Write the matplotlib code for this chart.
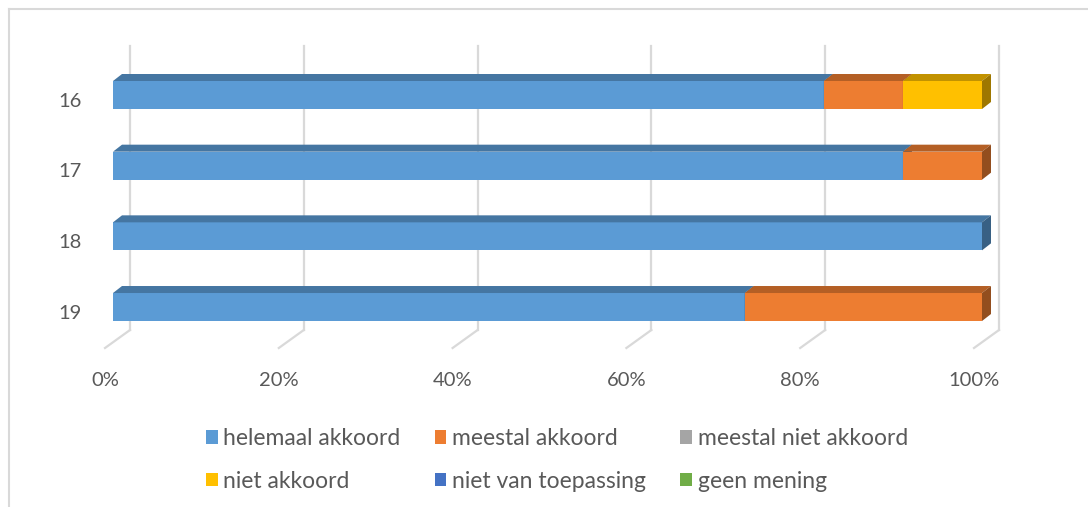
import matplotlib.pyplot as plt
from matplotlib.patches import Polygon, Patch
from matplotlib.lines import Line2D
from matplotlib.colors import to_rgb

categories = ["16", "17", "18", "19"]
series_names = ["helemaal akkoord", "meestal akkoord", "meestal niet akkoord",
                "niet akkoord", "niet van toepassing", "geen mening"]
helemaal_akkoord = [81.8, 90.9, 100.0, 72.7]
meestal_akkoord = [9.1, 9.1, 0.0, 27.3]
meestal_niet_akkoord = [0.0, 0.0, 0.0, 0.0]
niet_akkoord = [9.1, 0.0, 0.0, 0.0]
niet_van_toepassing = [0.0, 0.0, 0.0, 0.0]
geen_mening = [0.0, 0.0, 0.0, 0.0]
x_ticks = [0, 20, 40, 60, 80, 100]
x_tick_labels = ["0%", "20%", "40%", "60%", "80%", "100%"]

colors = ["#5B9BD5", "#ED7D31", "#A5A5A5", "#FFC000", "#4472C4", "#70AD47"]
text_color = "#595959"
grid_color = "#D9D9D9"

plt.rcParams["font.family"] = ["Lato", "DejaVu Sans"]

W, H = 1088, 507
fig = plt.figure(figsize=(W / 100, H / 100), dpi=100)
ax = fig.add_axes([0, 0, 1, 1])

# pixel layout helpers: x value 0..100 -> front face 113..982 px
px_per_unit = 869 / 100
row_px = 70.67
ax.set_xlim(-113 / px_per_unit, (W - 113) / px_per_unit)
ax.set_ylim((H - 95) / row_px, -95 / row_px)
ax.axis("off")

bar_h = 28 / row_px
dx, dy = 9 / px_per_unit, -7 / row_px
wall_dx = 17 / px_per_unit
wall_top, wall_bot = (46 - 95) / row_px, (330 - 95) / row_px
floor_dx, floor_bot = -25 / px_per_unit, (348 - 95) / row_px


def shade(c, f):
    r, g, b = to_rgb(c)
    return (r * f, g * f, b * f)


# back wall gridlines and floor lines
for v, lab in zip(x_ticks, x_tick_labels):
    xw = v + wall_dx
    ax.plot([xw, xw], [wall_top, wall_bot], color=grid_color, lw=1.6, zorder=1)
    ax.plot([xw, xw + floor_dx], [wall_bot, floor_bot], color=grid_color, lw=1.6, zorder=1)
    ax.text(xw + floor_dx, (380 - 95) / row_px, lab, ha="center", va="center",
            fontsize=14.5, color=text_color)

series = [helemaal_akkoord, meestal_akkoord, meestal_niet_akkoord,
          niet_akkoord, niet_van_toepassing, geen_mening]

for i, cat in enumerate(categories):
    left = 0
    top = i - bar_h / 2
    bot = i + bar_h / 2
    z = 3
    for vals, c in zip(series, colors):
        w = vals[i]
        if w <= 0:
            continue
        x0, x1 = left, left + w
        ax.barh(i, w, left=x0, height=bar_h, color=c, edgecolor="none", zorder=z)
        ax.add_patch(Polygon([(x0, top), (x1, top), (x1 + dx, top + dy), (x0 + dx, top + dy)],
                             closed=True, facecolor=shade(c, 0.76), edgecolor="none", zorder=z))
        ax.add_patch(Polygon([(x1, top), (x1 + dx, top + dy), (x1 + dx, bot + dy), (x1, bot)],
                             closed=True, facecolor=shade(c, 0.62), edgecolor="none", zorder=z))
        left = x1
        z += 1
    ax.text(-43 / px_per_unit, i + 6 / row_px, cat, ha="center", va="center",
            fontsize=14.5, color=text_color)

# legend, filled column-wise so rows read like the original
order = [0, 3, 1, 4, 2, 5]
handles = [Patch(facecolor=colors[k], edgecolor="none", label=series_names[k]) for k in order]
fig.legend(handles=handles, loc="center", bbox_to_anchor=(557 / W, 1 - 460 / H), ncol=3,
           frameon=False, fontsize=16.5, labelcolor=text_color, handlelength=0.5,
           handleheight=0.5, handletextpad=0.25, columnspacing=1.5, labelspacing=0.95)

# chart area border (left and top edges visible)
fig.add_artist(Line2D([8.5 / W, 8.5 / W], [0, 1 - 9 / H], color=grid_color, lw=1.5))
fig.add_artist(Line2D([8.5 / W, 1], [1 - 9 / H, 1 - 9 / H], color=grid_color, lw=1.5))

fig.savefig("out.png", dpi=100)
